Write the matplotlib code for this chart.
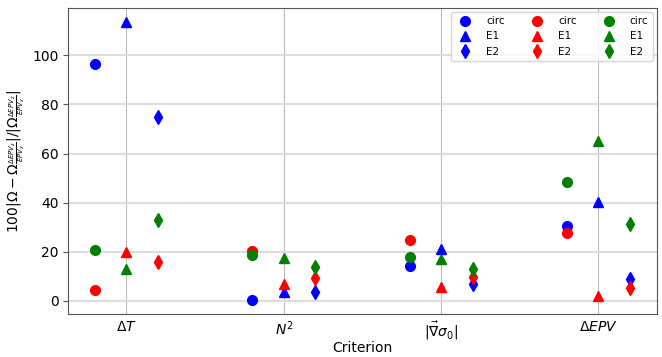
import matplotlib
matplotlib.use("Agg")
import matplotlib.pyplot as plt
import numpy as np

criteria = [r'$\Delta T$', r'$N^2$', r'$|\vec{\nabla}\sigma_0|$', r'$\Delta EPV$']
colors = ['blue', 'red', 'green']

# rows: circ, E1, E2 ; one dict entry per colour
values = {
    'blue':  {'circ': [96.6, 0.3, 14.4, 30.6],
              'E1':   [113.6, 3.5, 21.1, 40.4],
              'E2':   [74.8, 3.8, 6.9, 9.0]},
    'red':   {'circ': [4.4, 20.5, 24.7, 27.7],
              'E1':   [20.1, 6.8, 5.8, 2.0],
              'E2':   [16.0, 9.2, 9.7, 5.4]},
    'green': {'circ': [20.7, 18.7, 17.9, 48.5],
              'E1':   [12.9, 17.4, 17.1, 65.1],
              'E2':   [32.8, 14.0, 13.0, 31.4]},
}
cases = ['circ', 'E1', 'E2']
markers = {'circ': 'o', 'E1': '^', 'E2': 'd'}
offsets = {'circ': -0.2, 'E1': 0.0, 'E2': 0.2}

fig, ax = plt.subplots(figsize=(6.62, 3.57), dpi=100)
fig.subplots_adjust(left=0.103, right=0.992, top=0.978, bottom=0.12)

x = np.arange(len(criteria))
for c in colors:
    for case in cases:
        ax.plot(x + offsets[case], values[c][case], linestyle='none',
                marker=markers[case], color=c, markersize=7, label=case)

ax.set_xticks(x)
ax.set_xticklabels(criteria, fontsize=10)
ax.tick_params(axis='y', labelsize=10, color='#555555')
ax.tick_params(axis='x', length=0, pad=4)
ax.set_xlabel('Criterion', fontsize=10, labelpad=-1)
ax.set_ylabel(r'$100|\Omega - \Omega_{\frac{\Delta EPV_z}{EPV_x}}|/|\Omega_{\frac{\Delta EPV_z}{EPV_x}}|$',
              fontsize=10)
ax.yaxis.grid(True, color='#dddddd', lw=1.5)
ax.xaxis.grid(True, color='#bbbbbb', lw=0.8)
ax.set_axisbelow(True)
for s in ax.spines.values():
    s.set_color('#555555')

ax.legend(ncol=3, loc='upper right', fontsize=7.5, columnspacing=2.1,
          handletextpad=1.0, borderaxespad=0.4)

fig.savefig('out.png', dpi=100)
